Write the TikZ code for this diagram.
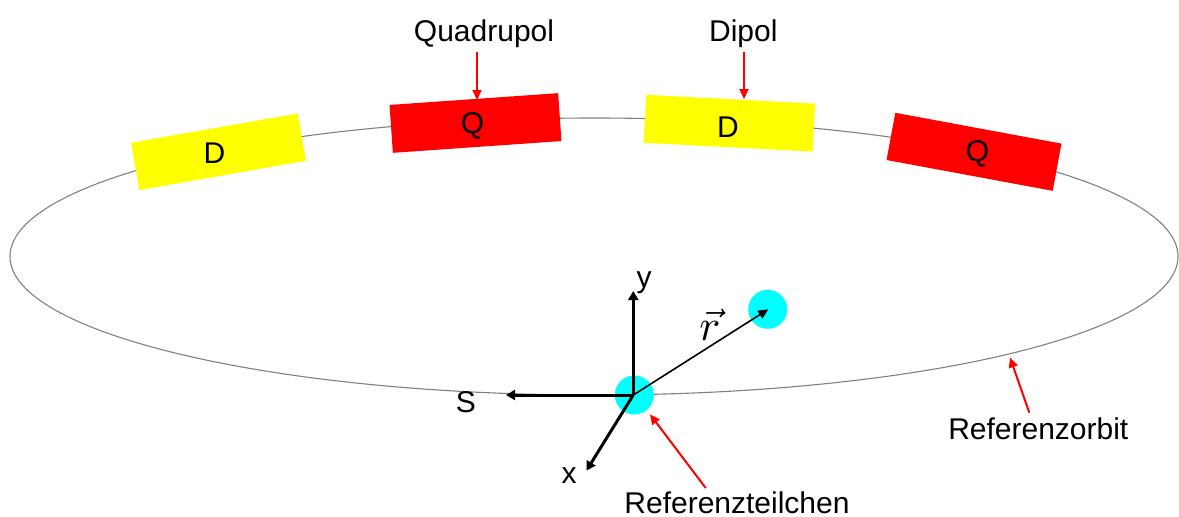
\documentclass[tikz,border=0pt]{standalone}
\usepackage{fontspec}
\setmainfont{Liberation Sans}
\usetikzlibrary{arrows.meta}
\definecolor{magyellow}{RGB}{255,255,0}
\definecolor{magred}{RGB}{255,0,0}
\definecolor{partcyan}{RGB}{0,255,255}
\definecolor{orbitgray}{RGB}{128,128,128}
\begin{document}
\begin{tikzpicture}[x=1pt,y=-1pt,
  lbl/.style={font=\fontsize{30}{36}\selectfont, inner sep=0pt, anchor=base},
  ctr/.style={font=\fontsize{30}{36}\selectfont, inner sep=0pt, anchor=center},
  magnet/.style={minimum width=169pt, minimum height=48pt, inner sep=0pt, draw=none},
  redarrow/.style={magred, line width=2pt, -{Triangle[length=10pt,width=9pt]}},
  axisarrow/.style={black, line width=3pt, -{Triangle[length=9pt,width=10pt]}},
  thinarrow/.style={black, line width=1.6pt, -{Triangle[length=10pt,width=9pt]}},
  particle/.style={circle, fill=partcyan, minimum size=39pt, inner sep=0pt}]
\useasboundingbox (0,0) rectangle (1179,517);
% orbit
\draw[orbitgray, line width=1.1pt] (594,256.5) ellipse [x radius=584, y radius=138.5];
% magnets
\node[magnet, fill=magyellow, rotate=10] (D1) at (218.5,151.8) {};
\node[magnet, fill=magred, rotate=4] (Q1) at (475.5,123) {};
\node[magnet, fill=magyellow, rotate=-3] (D2) at (729.4,123.2) {};
\node[magnet, fill=magred, rotate=-10.5] (Q2) at (974,151.8) {};
\node[ctr] (tD1) at (214.5,153) {D};
\node[ctr] (tQ1) at (472.5,125.5) {Q};
\node[ctr] (tD2) at (728,126.7) {D};
\node[ctr] (tQ2) at (977.5,153.5) {Q};
% labels on top
\node[lbl] (quad) at (484,41.5) {Quadrupol};
\node[lbl] (dip) at (743.3,41.5) {Dipol};
\coordinate (qa) at (477,52);
\coordinate (qb) at (477,100);
\draw[redarrow] (qa) -- (qb);
\coordinate (da) at (744,52);
\coordinate (db) at (744,99);
\draw[redarrow] (da) -- (db);
% particles
\node[particle] (P0) at (634.3,395) {};
\node[particle] (P1) at (767.7,309.3) {};
% axes
\coordinate (O) at (633.3,395);
\coordinate (ytip) at (633.3,291);
\coordinate (stip) at (506,395);
\coordinate (xtip) at (586.5,470.5);
\coordinate (rtip) at (768.3,309.3);
\draw[axisarrow] (O) -- (ytip);
\draw[axisarrow] (O) -- (stip);
\draw[axisarrow] (O) -- (xtip);
\draw[thinarrow] (O) -- (rtip);
\node[lbl] (ylab) at (644,287) {y};
\node[lbl] (slab) at (466,412.7) {S};
\node[lbl] (xlab) at (569,483.3) {x};
\node[inner sep=0pt, anchor=base, scale=4.4] (rlab) at (710,340) {$\vec{r}$};
% bottom labels
\node[lbl] (rt) at (737,513) {Referenzteilchen};
\node[lbl] (ro) at (1038.3,439.3) {Referenzorbit};
\coordinate (rta) at (705.7,488);
\coordinate (rtb) at (650,414.3);
\draw[redarrow] (rta) -- (rtb);
\coordinate (roa) at (1029.3,412.7);
\coordinate (rob) at (1010,357.5);
\draw[redarrow] (roa) -- (rob);
\end{tikzpicture}
\end{document}
